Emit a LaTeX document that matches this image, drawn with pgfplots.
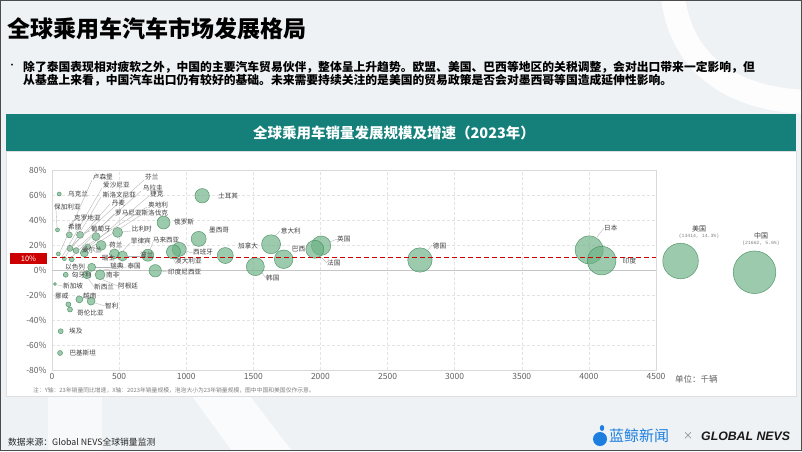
\documentclass[border=0pt]{standalone}
\usepackage{pgfplots}
\usepackage{pgfplotstable}
\pgfplotsset{compat=1.18}
\usepackage{fontspec}
\setmainfont{Noto Sans CJK SC}
\newfontfamily\latinfont{Liberation Sans}
\newfontfamily\monofont{Liberation Mono}
\definecolor{teal1}{HTML}{15807A}
\definecolor{slidebg}{HTML}{EEF2F5}
\definecolor{bubfill}{RGB}{108,177,133}
\definecolor{bubedge}{RGB}{70,140,95}
\definecolor{refred}{RGB}{204,0,0}
\definecolor{lblgray}{HTML}{404040}
\definecolor{tickgray}{HTML}{606060}
\definecolor{whaleblue}{HTML}{1C7FE0}

\pgfplotstableread{
x y r
4002 16.1 14
4095 7.5 14.3
2741 8.0 12.2
2005 19.5 9.7
1958 16.6 9
1726 8.6 9.3
1632 20.6 9.5
1515 2.7 9
1291 11.6 8
1093 24.9 7.5
1119 59.4 7.2
831 38.0 6.5
948 16.5 7
905 14.5 7
714 11.8 6
769 -0.6 6.2
489 30.1 5
366 19.7 5
328 26.7 4
209 28.1 3.5
129 28.1 3
41 32.1 2
54 60.8 2
266 18.5 3
134 17.3 3
179 15.5 3
241 13.7 4
47 12.9 2
92 9.1 2
147 8.6 2.5
465 12.9 5
525 11.2 5
296 2.2 4
259 -3.8 4
358 -3.8 5
102 -3.8 2.5
22 -11.2 1.5
204 -23.5 3.5
291 -24.9 4
122 -27.5 2.5
134 -31.6 2.5
65 -49.0 2.5
60 -66.4 2.5
4683 7.2 17.8
5234 -1.8 21.3
}\bubbles

\newcommand{\lab}[3]{\node[anchor=west,inner sep=0pt,font=\fontsize{6.6}{7}\selectfont,text=lblgray] at (#1,#2) {#3};}

\begin{document}
\begin{tikzpicture}[x=1pt,y=-1pt]
\useasboundingbox (0,0) rectangle (802,451);
\fill[slidebg] (0,0) rectangle (802,451);
% decorations
\draw[white, line width=24pt, opacity=0.9] (672,-12) .. controls (678,70) and (740,102) .. (815,102);
\fill[white, opacity=0.55] (48,396) -- (102,396) -- (102,451) -- (48,451) -- cycle;
\fill[white, opacity=0.7] (192,396) -- (250,396) -- (292,451) -- (232,451) -- cycle;

% titles
\node[anchor=west,inner sep=0pt,font=\fontsize{23}{26}\selectfont\bfseries] at (7,29) {全球乘用车汽车市场发展格局};
\node[inner sep=0pt,font=\fontsize{9}{10}\selectfont] at (12,66.5) {•};
\node[anchor=west,inner sep=0pt,font=\fontsize{11.8}{13}\selectfont\bfseries] at (23,67) {除了泰国表现相对疲软之外，中国的主要汽车贸易伙伴，整体呈上升趋势。欧盟、美国、巴西等地区的关税调整，会对出口带来一定影响，但};
\node[anchor=west,inner sep=0pt,font=\fontsize{11.8}{13}\selectfont\bfseries] at (23,80.5) {从基盘上来看，中国汽车出口仍有较好的基础。未来需要持续关注的是美国的贸易政策是否会对墨西哥等国造成延伸性影响。};

% panel
\fill[teal1] (6,114) rectangle (796,151);
\node[text=white,font=\fontsize{14.5}{16}\selectfont\bfseries] at (394,132.5) {全球乘用车销量发展规模及增速（2023年）};
\filldraw[fill=white,draw=gray!25] (6,151) rectangle (796,396);

\begin{scope}[x=1pt,y=1pt]
\begin{axis}[
  at={(52pt,-370pt)}, anchor=south west,
  scale only axis, width=604pt, height=200pt,
  xmin=0, xmax=4500, ymin=-80, ymax=80,
  xtick={0,500,...,4500}, ytick={-80,-60,...,80},
  yticklabels={-80\%,-60\%,-40\%,-20\%,0\%,20\%,40\%,60\%,80\%},
  /pgf/number format/assume math mode=true,
  /pgf/number format/1000 sep={},
  grid=major, major grid style={densely dashed, gray!22, line width=0.5pt},
  axis line style={draw=gray!30, line width=0.5pt},
  tick style={draw=none},
  ticklabel style={font=\fontsize{8.5}{10}\selectfont, text=tickgray},
  yticklabel style={xshift=-2pt},
  clip=false,
]
\draw[gray!45, line width=0.6pt] (axis cs:0,0) -- (axis cs:4500,0);
\addplot[scatter, only marks, mark=*,
  scatter/use mapped color={draw=bubedge, fill=bubfill, fill opacity=0.68, draw opacity=0.85, line width=0.5pt},
  visualization depends on={\thisrow{r} \as \rr},
  scatter/@pre marker code/.append style={/tikz/mark size=\rr pt},
] table[x=x,y=y] {\bubbles};
\coordinate (L0) at (axis cs:0,10);
\coordinate (L1) at (axis cs:4500,10);
\end{axis}
\end{scope}
\draw[color=refred, line width=1.6pt, dash pattern=on 5pt off 3pt] (L0) -- (L1);

% 10% tag
\fill[refred] (10,253) rectangle (47,264);
\node[text=white,font=\fontsize{7.5}{8}\selectfont] at (28.5,258.5) {10\%};

% leader lines
\begin{scope}[draw=gray!60, line width=0.35pt]
\draw (92,180) -- (60,252);
\draw (144,180) -- (68,249);
\draw (102,188) -- (62,257);
\draw (141,191) -- (75,250);
\draw (101,197) -- (66,256);
\draw (149,196) -- (83,252);
\draw (110,204) -- (73,246);
\draw (147,207) -- (86,246);
\draw (114,214) -- (71,258);
\draw (141,215) -- (84,252);
\draw (73,220) -- (67,234);
\draw (56,210) -- (57,228);
\draw (90,231) -- (82,234);
\draw (131,231) -- (122,232);
\draw (130,243) -- (122,252);
\draw (153,242) -- (150,250);
\draw (140,256) -- (127,256);
\draw (193,253) -- (185,251);
\draw (175,262) -- (173,258);
\draw (110,267) -- (96,267);
\draw (127,267) -- (103,270);
\draw (168,272) -- (161,271);
\draw (63,286) -- (57,285);
\draw (94,287) -- (88,278);
\draw (118,286) -- (101,279);
\draw (105,306) -- (95,303);
\draw (266,278) -- (262,273);
\draw (327,263) -- (320,256);
\draw (280,231) -- (275,236);
\draw (604,228) -- (597,237);
\draw (432,245) -- (428,250);
\draw (337,239) -- (330,242);
\end{scope}

% labels
\lab{92.7}{177.3}{卢森堡}
\lab{145}{177.3}{芬兰}
\lab{103}{185}{爱沙尼亚}
\lab{142.7}{188.3}{乌拉圭}
\lab{68}{194.3}{乌克兰}
\lab{102.7}{195}{斯洛文尼亚}
\lab{150}{194}{捷克}
\lab{54}{206.7}{保加利亚}
\lab{111.7}{202.7}{丹麦}
\lab{148}{205}{奥地利}
\lab{115}{212.7}{罗马尼亚斯洛伐克}
\lab{74}{218.3}{克罗地亚}
\lab{68}{226.7}{希腊}
\lab{90.7}{229.3}{葡萄牙}
\lab{131.7}{229.3}{比利时}
\lab{174}{221.7}{俄罗斯}
\lab{218}{196}{土耳其}
\lab{209}{230}{墨西哥}
\lab{109}{245}{荷兰}
\lab{130.7}{241}{菲律宾}
\lab{152.7}{240}{马来西亚}
\lab{238}{246}{加拿大}
\lab{81.7}{250}{爱尔兰}
\lab{101.7}{258.3}{瑞士}
\lab{140}{255}{波兰}
\lab{193}{252.3}{西班牙}
\lab{175}{261}{澳大利亚}
\lab{65}{266.7}{以色列}
\lab{110}{266}{瑞典}
\lab{127.3}{266}{泰国}
\lab{168}{271.7}{印度尼西亚}
\lab{71.7}{275}{匈牙利}
\lab{106}{275}{南非}
\lab{63}{286}{新加坡}
\lab{94}{287.3}{新西兰}
\lab{118}{286}{阿根廷}
\lab{55}{296}{挪威}
\lab{83}{296}{越南}
\lab{105}{306}{智利}
\lab{77}{313.3}{哥伦比亚}
\lab{69}{331}{埃及}
\lab{69.3}{352.7}{巴基斯坦}
\lab{280.7}{230.7}{意大利}
\lab{291.7}{249.3}{巴西}
\lab{337}{239}{英国}
\lab{327}{263.3}{法国}
\lab{266}{278.3}{韩国}
\lab{432.7}{245.7}{德国}
\lab{604}{228.3}{日本}
\lab{622.7}{261}{印度}

\node[text=lblgray,font=\fontsize{7}{8}\selectfont] at (699,229) {美国};
\node[text=gray,font=\monofont\fontsize{4.8}{5}\selectfont] at (699,236.7) {(13414, 14.3\%)};
\node[text=lblgray,font=\fontsize{7}{8}\selectfont] at (761,236) {中国};
\node[text=gray,font=\monofont\fontsize{4.8}{5}\selectfont] at (761,243.3) {(21662, 5.6\%)};

% notes
\node[anchor=west,inner sep=0pt,text=tickgray,font=\fontsize{8.5}{10}\selectfont] at (675,379) {单位：千辆};
\node[anchor=west,inner sep=0pt,text=gray,font=\fontsize{5.8}{6}\selectfont] at (33,390.7) {注：Y轴：23年销量同比增速，X轴：2023年销量规模，泡泡大小为23年销量规模，图中中国和美国仅作示意。};

% footer
\node[anchor=west,inner sep=0pt,text=black!85,font=\fontsize{8.8}{10}\selectfont] at (8,442) {数据来源：Global NEVS全球销量监测};
\fill[whaleblue] (600,439) circle (7);
\fill[whaleblue] (602,428) ellipse (2.2 and 3);
\node[anchor=west,inner sep=0pt,text=whaleblue,font=\fontsize{15}{16}\selectfont] at (609,436) {蓝鲸新闻};
\node[text=gray,font=\fontsize{10}{11}\selectfont] at (688,436) {×};
\node[anchor=west,inner sep=0pt,text=black!90,font=\latinfont\fontsize{12.3}{13}\selectfont\bfseries\itshape] at (701,436) {GLOBAL NEVS};

\draw[gray!60!black, line width=1pt] (0.5,0.5) rectangle (801.5,450.5);
\end{tikzpicture}
\end{document}
